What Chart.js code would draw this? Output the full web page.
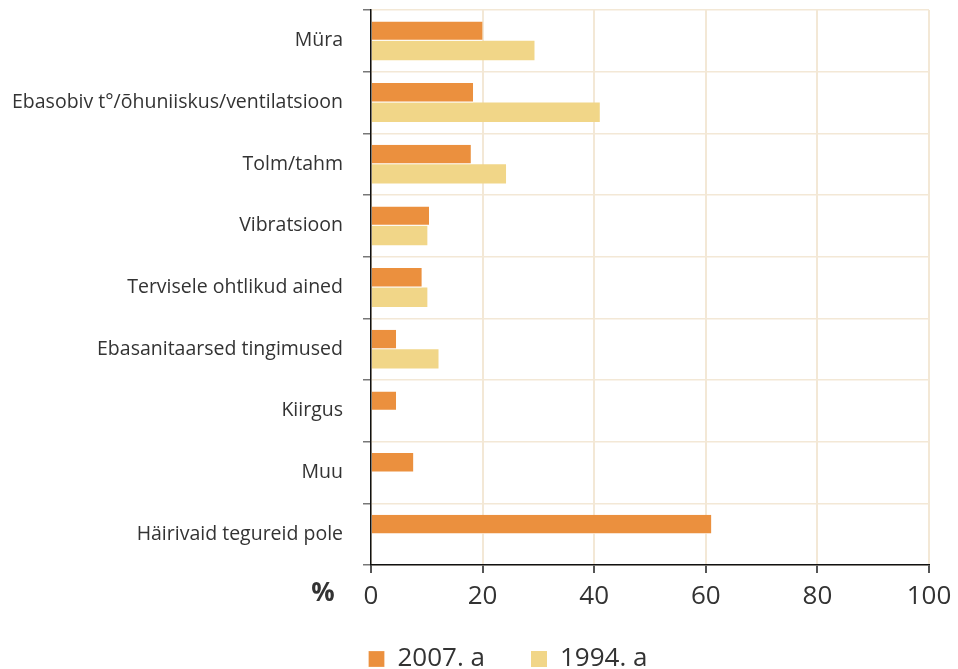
<!DOCTYPE html>
<html>
<head>
<meta charset="utf-8">
<script src="https://cdn.jsdelivr.net/npm/chart.js@4"></script>
<style>
  html, body { margin: 0; padding: 0; background: #fff; }
  #wrap { width: 958px; height: 669px; }
</style>
</head>
<body>
<div id="wrap"><canvas id="factorsChart"></canvas></div>
<script>
const categories = [
    'Müra',
    'Ebasobiv t°/õhuniiskus/ventilatsioon',
    'Tolm/tahm',
    'Vibratsioon',
    'Tervisele ohtlikud ained',
    'Ebasanitaarsed tingimused',
    'Kiirgus',
    'Muu',
    'Häirivaid tegureid pole'
];
const values2007 = [20, 18.3, 17.9, 10.4, 9.1, 4.5, 4.5, 7.6, 61];
const values1994 = [29.3, 41, 24.2, 10.1, 10.1, 12.1, null, null, null];
const xTicks = [0, 20, 40, 60, 80, 100];

const FONT = "'Open Sans', sans-serif";
const TEXT = '#333';

// "%" mark left of the x tick labels
const percentMark = {
    id: 'percentMark',
    afterDraw(chart) {
        const x = chart.scales.x;
        const ctx = chart.ctx;
        ctx.save();
        ctx.font = 'bold 26px ' + FONT;
        ctx.fillStyle = TEXT;
        ctx.textAlign = 'center';
        ctx.textBaseline = 'top';
        ctx.fillText('%', 323, x.top + 8 + 8);
        ctx.restore();
    }
};

// legend sits a bit right of the canvas centre and close under the axis
const legendPlace = {
    id: 'legendPlace',
    afterLayout(chart) {
        const lg = chart.legend;
        if (!lg) return;
        const h = lg.bottom - lg.top;
        lg.left = 58;
        lg.top = 600;
        lg.bottom = 600 + h;
    }
};

const factorsCanvas = document.getElementById('factorsChart');
if (factorsCanvas) {
    const ctx = factorsCanvas.getContext('2d');
    const factorsChart = new Chart(ctx, {
        type: 'bar',
        data: {
            labels: categories,
            datasets: [{
                label: '2007. a',
                data: values2007,
                backgroundColor: '#EB903E',
                borderColor: '#ffffff',
                borderWidth: { top: 0, right: 0, bottom: 1, left: 0 },
                borderSkipped: false
            }, {
                label: '1994. a',
                data: values1994,
                backgroundColor: '#F1D688',
                borderWidth: 0
            }]
        },
        options: {
            indexAxis: 'y',
            responsive: true,
            maintainAspectRatio: false,
            animation: false,
            layout: {
                padding: { left: 0, right: 0, top: 10, bottom: -23 }
            },
            datasets: {
                bar: {
                    categoryPercentage: 0.63,
                    barPercentage: 1
                }
            },
            plugins: {
                legend: {
                    position: 'bottom',
                    labels: {
                        color: TEXT,
                        boxWidth: 16,
                        boxHeight: 16,
                        padding: 46,
                        font: { family: FONT, size: 26 }
                    }
                },
                tooltip: { enabled: false }
            },
            scales: {
                x: {
                    min: 0,
                    max: 100,
                    afterBuildTicks: function(scale) {
                        scale.ticks = xTicks.map(v => ({ value: v }));
                    },
                    afterFit: function(scale) {
                        scale.height = 45;
                        scale.paddingRight = 29;
                        scale.paddingLeft = 0;
                    },
                    border: { color: '#111', width: 1.5 },
                    grid: {
                        color: '#F3E8D6',
                        lineWidth: 2,
                        tickColor: '#555',
                        tickLength: 8
                    },
                    ticks: {
                        color: TEXT,
                        padding: 8,
                        font: { family: FONT, size: 26 }
                    }
                },
                y: {
                    afterFit: function(scale) {
                        scale.width = 371;
                        scale.paddingTop = 0;
                        scale.paddingBottom = 0;
                    },
                    border: { color: '#111', width: 1.5 },
                    grid: {
                        color: '#F3E8D6',
                        lineWidth: 1.5,
                        tickColor: '#777',
                        tickLength: 8
                    },
                    ticks: {
                        color: TEXT,
                        padding: 20,
                        font: { family: FONT, size: 19.5 }
                    }
                }
            }
        },
        plugins: [percentMark, legendPlace]
    });
}
</script>
</body>
</html>
